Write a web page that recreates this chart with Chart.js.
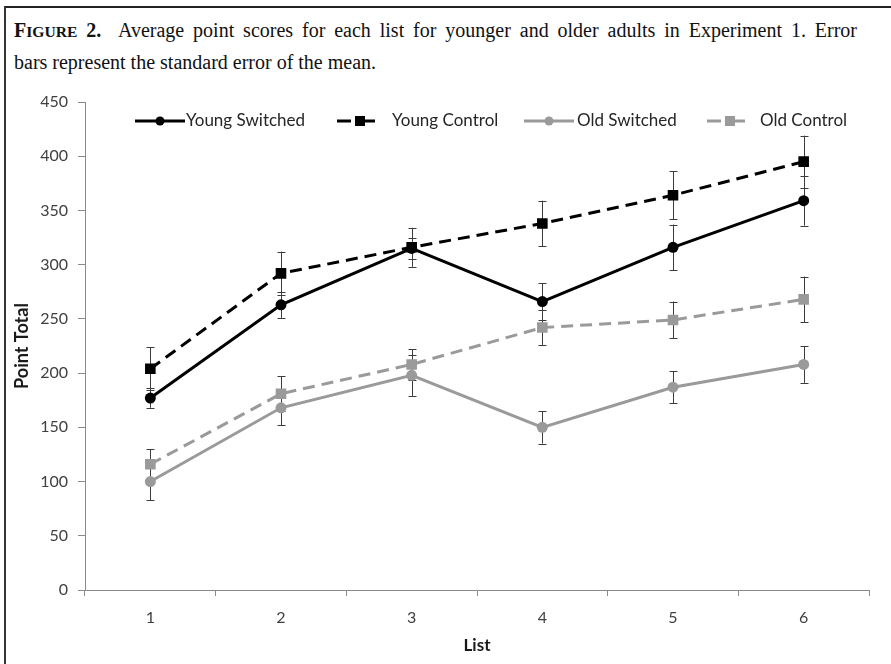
<!DOCTYPE html>
<html>
<head>
<meta charset="utf-8">
<script src="https://cdn.jsdelivr.net/npm/chart.js@4"></script>
<style>
  html, body { margin: 0; padding: 0; background: #fff; }
  body { width: 891px; height: 664px; position: relative; overflow: hidden; }
  .frame-top { position: absolute; left: 4px; top: 6px; width: 887px; height: 2px; background: #222; }
  .frame-left { position: absolute; left: 4px; top: 6px; width: 2px; height: 658px; background: #333; }
  .caption {
    position: absolute; left: 14px; top: 15px; width: 843px;
    font-family: "Liberation Serif", "DejaVu Serif", serif; font-size: 20px; line-height: 31px; color: #111;
  }
  .caption .line1 { display: block; text-align: justify; text-align-last: justify; white-space: nowrap; }
  .caption .sc { font-size: 78%; }
  #wrap { position: absolute; left: 0; top: 0; width: 891px; height: 664px; }
</style>
</head>
<body>
<div class="frame-top"></div>
<div class="frame-left"></div>
<div class="caption"><span class="line1"><b>F<span class="sc">IGURE</span> 2.</b>&nbsp; Average point scores for each list for younger and older adults in Experiment 1. Error</span>bars represent the standard error of the mean.</div>
<div id="wrap"><canvas id="chart"></canvas></div>
<script>
// Lists presented in the experiment
const lists = ['1', '2', '3', '4', '5', '6'];

// Mean point totals per list
const youngSwitched = [177, 263, 315, 266, 316, 359];
const youngControl  = [204, 292, 316, 338, 364, 395];
const oldSwitched   = [100, 168, 198, 150, 187, 208];
const oldControl    = [116, 181, 208, 242, 249, 268];

// Standard error of the mean per list
const youngSwitchedSE = [9, 12, 10, 17, 21, 23];
const youngControlSE  = [20, 20, 18, 21, 22, 24];
const oldSwitchedSE   = [17, 16, 19, 15, 15, 17];
const oldControlSE    = [14, 16, 14, 16, 17, 21];

const yTicks = [0, 50, 100, 150, 200, 250, 300, 350, 400, 450];

const BLACK = '#000000';
const GREY = '#9a9a9a';
const DASH = [12, 7];
const FONT = 'Lato, "Open Sans", "Liberation Sans", sans-serif';

function series(label, data, se, color, dashed, shape) {
  return {
    label, data, se,
    borderColor: color, backgroundColor: color,
    borderWidth: 3, borderDash: dashed ? DASH : [],
    pointStyle: shape, pointRadius: shape === 'rect' ? 7.5 : 5.5,
    pointBorderWidth: 0, pointHoverRadius: 0,
    tension: 0, fill: false
  };
}

// Vertical error bars with caps, placed through the chart scales
const errorBars = {
  id: 'errorBars',
  beforeDatasetsDraw(chart) {
    const { ctx, scales: { x, y } } = chart;
    ctx.save();
    ctx.strokeStyle = '#3c3c3c';
    ctx.lineWidth = 1;
    chart.data.datasets.forEach(ds => {
      ds.data.forEach((v, i) => {
        const px = Math.round(x.getPixelForValue(i)) + 0.5;
        const top = y.getPixelForValue(v + ds.se[i]);
        const bot = y.getPixelForValue(v - ds.se[i]);
        ctx.beginPath();
        ctx.moveTo(px, top); ctx.lineTo(px, bot);
        ctx.moveTo(px - 4, Math.round(top) + 0.5); ctx.lineTo(px + 4, Math.round(top) + 0.5);
        ctx.moveTo(px - 4, Math.round(bot) + 0.5); ctx.lineTo(px + 4, Math.round(bot) + 0.5);
        ctx.stroke();
      });
    });
    ctx.restore();
  }
};

// Legend row with line samples and markers
const lineLegend = {
  id: 'lineLegend',
  afterDraw(chart) {
    const { ctx } = chart;
    const yMid = 121;
    const items = [
      { ds: 0, x0: 135, tx: 186 },
      { ds: 1, x0: 330, tx: 392 },
      { ds: 2, x0: 524, tx: 577 },
      { ds: 3, x0: 700, tx: 760 }
    ];
    ctx.save();
    items.forEach(it => {
      const ds = chart.data.datasets[it.ds];
      const dashed = ds.borderDash && ds.borderDash.length;
      const len = dashed ? 48 : 50;
      ctx.strokeStyle = ds.borderColor;
      ctx.lineWidth = 3;
      ctx.setLineDash(dashed ? [14, 10] : []);
      ctx.lineDashOffset = dashed ? -7 : 0;
      ctx.beginPath();
      ctx.moveTo(it.x0, yMid); ctx.lineTo(it.x0 + len, yMid);
      ctx.stroke();
      ctx.setLineDash([]);
      const cx = it.x0 + len / 2 + (dashed ? 6 : 0);
      ctx.fillStyle = ds.borderColor;
      ctx.beginPath();
      if (ds.pointStyle === 'rect') ctx.rect(cx - 5, yMid - 5, 10, 10);
      else ctx.arc(cx, yMid, 4.5, 0, Math.PI * 2);
      ctx.fill();
      ctx.fillStyle = '#262626';
      ctx.font = '17px ' + FONT;
      ctx.textBaseline = 'middle';
      ctx.fillText(ds.label, it.tx, yMid);
    });
    ctx.restore();
  }
};

new Chart(document.getElementById('chart'), {
  type: 'line',
  data: {
    labels: lists,
    datasets: [
      series('Young Switched', youngSwitched, youngSwitchedSE, BLACK, false, 'circle'),
      series('Young Control', youngControl, youngControlSE, BLACK, true, 'rect'),
      series('Old Switched', oldSwitched, oldSwitchedSE, GREY, false, 'circle'),
      series('Old Control', oldControl, oldControlSE, GREY, true, 'rect')
    ]
  },
  options: {
    responsive: true,
    maintainAspectRatio: false,
    animation: false,
    events: [],
    layout: { padding: { top: 102, right: 22, left: 0, bottom: 0 } },
    plugins: { legend: { display: false }, tooltip: { enabled: false } },
    scales: {
      x: {
        offset: true,
        grid: { drawOnChartArea: false, offset: true, tickLength: 6, color: '#8a8a8a' },
        border: { color: '#8a8a8a', width: 1 },
        ticks: { color: '#404040', font: { family: FONT, size: 16 }, padding: 12 },
        title: { display: true, text: 'List', color: '#1a1a1a', font: { family: FONT, size: 17, weight: 'bold' }, padding: { top: 4, bottom: 8 } },
        afterFit(scale) { scale.height = 74; }
      },
      y: {
        min: 0, max: 450,
        afterBuildTicks(scale) { scale.ticks = yTicks.map(v => ({ value: v })); },
        grid: { drawOnChartArea: false, tickLength: 7, color: '#8a8a8a' },
        border: { color: '#8a8a8a', width: 1 },
        ticks: { color: '#404040', font: { family: FONT, size: 16 }, padding: 10 },
        title: { display: true, text: 'Point Total', color: '#1a1a1a', font: { family: FONT, size: 18, weight: 'bold' }, padding: { top: 11, bottom: 4 } },
        afterFit(scale) { scale.width = 85; }
      }
    }
  },
  plugins: [errorBars, lineLegend]
});
</script>
</body>
</html>
